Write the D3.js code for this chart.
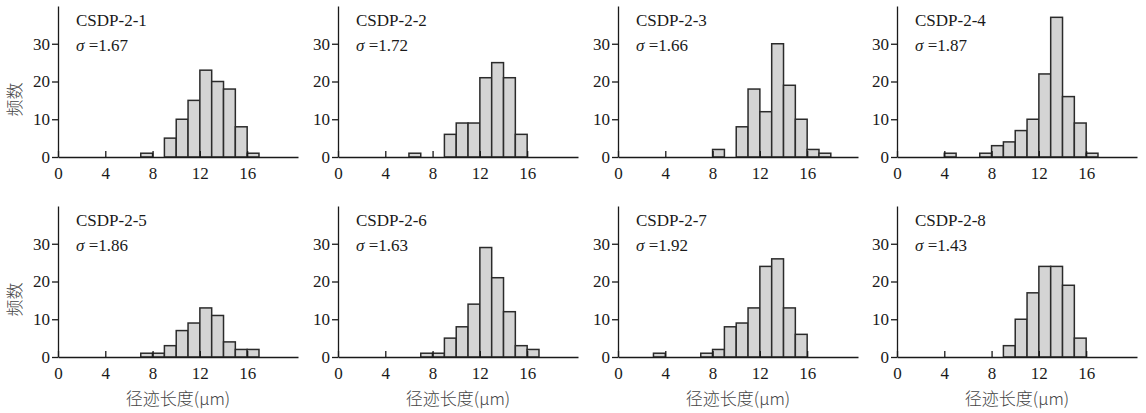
<!DOCTYPE html>
<html>
<head>
<meta charset="utf-8">
<script src="https://cdn.jsdelivr.net/npm/d3@7"></script>
<style>
  body { margin: 0; background: #fff; }
  svg { display: block; }
</style>
</head>
<body>
<svg></svg>
<script>
// размеры картинки
const width = 1146;
const height = 413;

// данные: имена образцов, сигмы, карманы и частоты
const samples = ["CSDP-2-1", "CSDP-2-2", "CSDP-2-3", "CSDP-2-4",
                 "CSDP-2-5", "CSDP-2-6", "CSDP-2-7", "CSDP-2-8"];
const sigmas = ["1.67", "1.72", "1.66", "1.87", "1.86", "1.63", "1.92", "1.43"];
// левые границы карманов (ширина 1 мкм)
const bins = [3, 4, 5, 6, 7, 8, 9, 10, 11, 12, 13, 14, 15, 16, 17];
const counts1 = [0, 0, 0, 0, 1, 0, 5, 10, 15, 23, 20, 18, 8, 1, 0];
const counts2 = [0, 0, 0, 1, 0, 0, 6, 9, 9, 21, 25, 21, 6, 0, 0];
const counts3 = [0, 0, 0, 0, 0, 2, 0, 8, 18, 12, 30, 19, 10, 2, 1];
const counts4 = [0, 1, 0, 0, 1, 3, 4, 7, 10, 22, 37, 16, 9, 1, 0];
const counts5 = [0, 0, 0, 0, 1, 1, 3, 7, 9, 13, 11, 4, 2, 2, 0];
const counts6 = [0, 0, 0, 0, 1, 1, 5, 8, 14, 29, 21, 12, 3, 2, 0];
const counts7 = [1, 0, 0, 0, 1, 2, 8, 9, 13, 24, 26, 13, 6, 0, 0];
const counts8 = [0, 0, 0, 0, 0, 0, 3, 10, 17, 24, 24, 19, 5, 0, 0];
const allCounts = [counts1, counts2, counts3, counts4, counts5, counts6, counts7, counts8];

const xTicks = [0, 4, 8, 12, 16];
const yTicks = [0, 10, 20, 30];
const yTitle = "频数";
const xTitle = "径迹长度(μm)";

const serif = "'Liberation Serif', 'DejaVu Serif', 'Times New Roman', serif";
const cjk = "'Noto Sans CJK SC', sans-serif";

let svg = d3.select("svg")
    .attr("width", width)
    .attr("height", height);

// геометрия панелей
const panelW = 240;
const panelH = 151;
const lefts = [58, 338, 618, 897];
const tops = [6, 206];

const x = d3.scaleLinear().domain([0, 20.3]).range([0, panelW]);
const y = d3.scaleLinear().domain([0, 40]).range([panelH, 0]);

function drawPanel(i) {
    const col = i % 4, row = Math.floor(i / 4);
    const g = svg.append("g")
        .attr("transform", `translate(${lefts[col]},${tops[row]})`);

    const data = bins.map((b, k) => ({b: b, c: allCounts[i][k]})).filter(d => d.c > 0);

    // столбики
    g.selectAll("rect.bar")
        .data(data)
        .join("rect")
        .attr("class", "bar")
        .attr("x", d => x(d.b))
        .attr("width", d => x(d.b + 1) - x(d.b))
        .attr("y", d => y(d.c))
        .attr("height", d => y(0) - y(d.c))
        .style("fill", "#d4d4d4")
        .style("stroke", "#2b2b2b")
        .style("stroke-width", 1.5);

    // ось x, засечки внутрь
    const xa = g.append("g")
        .attr("transform", `translate(0,${panelH})`)
        .call(d3.axisBottom(x).tickValues(xTicks).tickSizeInner(-6).tickSizeOuter(0).tickPadding(10));

    // ось y
    const ya = g.append("g")
        .call(d3.axisLeft(y).tickValues(yTicks).tickSizeInner(6).tickSizeOuter(0).tickPadding(2));

    [xa, ya].forEach(a => {
        a.attr("font-family", serif).attr("font-size", 17);
        a.select(".domain").style("stroke", "#1a1a1a").style("stroke-width", 1.3);
        a.selectAll(".tick line").style("stroke", "#1a1a1a").style("stroke-width", 1.3);
        a.selectAll(".tick text").attr("fill", "#1a1a1a");
    });

    // подписи образца и сигмы
    g.append("text")
        .attr("x", 18)
        .attr("y", 20)
        .attr("font-family", serif)
        .attr("font-size", 17)
        .attr("fill", "#1a1a1a")
        .text(samples[i]);

    const s = g.append("text")
        .attr("x", 18)
        .attr("y", 45)
        .attr("font-family", serif)
        .attr("font-size", 17)
        .attr("fill", "#1a1a1a");
    s.append("tspan").attr("font-style", "italic").text("σ");
    s.append("tspan").text(" =" + sigmas[i]);

    if (col === 0) {
        g.append("text")
            .attr("transform", `translate(-37,${panelH / 2 + 18}) rotate(-90)`)
            .attr("text-anchor", "middle")
            .attr("font-family", cjk)
            .attr("font-weight", 300)
            .attr("font-size", 17)
            .attr("fill", "#444")
            .text(yTitle);
    }
    if (row === 1) {
        g.append("text")
            .attr("x", panelW / 2)
            .attr("y", panelH + 48)
            .attr("text-anchor", "middle")
            .attr("font-family", cjk)
            .attr("font-weight", 300)
            .attr("font-size", 17)
            .attr("fill", "#444")
            .text(xTitle);
    }
}

for (let i = 0; i < 8; i++) drawPanel(i);
</script>
</body>
</html>
